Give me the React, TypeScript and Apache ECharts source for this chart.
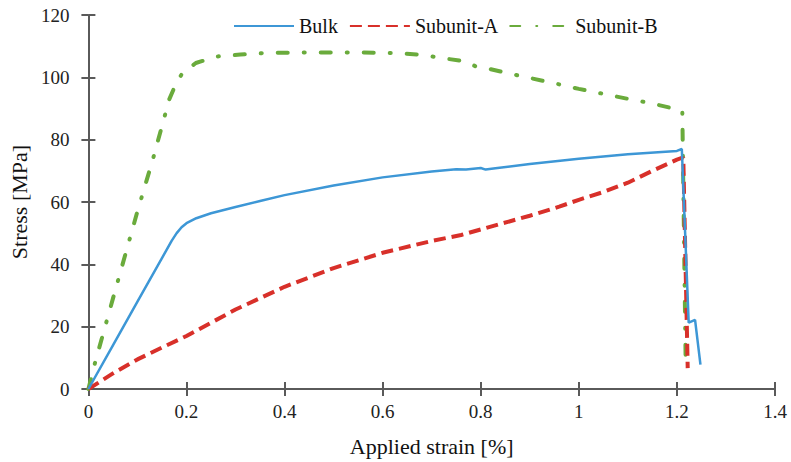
import React, { useEffect, useRef } from "react";
import * as echarts from "echarts";

const bulk: [number, number][] = [
  [0, 0], [0.05, 14], [0.1, 28], [0.15, 42], [0.17, 47.6], [0.18, 50], [0.19, 51.9], [0.2, 53.2],
  [0.22, 54.8], [0.25, 56.4], [0.3, 58.4], [0.35, 60.3], [0.4, 62.2], [0.5, 65.3],
  [0.6, 67.9], [0.7, 69.8], [0.75, 70.5], [0.77, 70.4], [0.8, 70.9], [0.81, 70.4],
  [0.83, 70.8], [0.9, 72.2], [1.0, 73.9], [1.1, 75.3], [1.2, 76.4], [1.21, 77],
  [1.224, 21.3], [1.237, 22.2], [1.248, 7.8],
];

const subunitA: [number, number][] = [
  [0, 0], [0.05, 5], [0.1, 9.5], [0.15, 13.3], [0.2, 17], [0.3, 25.5], [0.4, 32.8],
  [0.5, 38.8], [0.6, 43.7], [0.7, 47.5], [0.76, 49.4], [0.8, 51.2], [0.9, 55.6],
  [0.96, 58.5], [1.0, 60.7], [1.05, 63.2], [1.1, 66.2], [1.15, 70], [1.2, 73.6],
  [1.213, 74.3], [1.222, 6.7],
];

const subunitB: [number, number][] = [
  [0, 0], [0.0135, 8.4], [0.05, 29], [0.1, 57], [0.132, 74], [0.165, 93], [0.18, 98.5],
  [0.192, 101.4], [0.219, 104.6], [0.263, 106.7], [0.31, 107.3], [0.36, 107.8],
  [0.45, 108], [0.55, 108], [0.62, 107.8], [0.674, 107.3], [0.721, 106.2],
  [0.768, 105.1], [0.79, 103.5], [0.81, 103], [0.853, 101.4], [0.9, 99.8],
  [0.95, 98.1], [1.0, 96.3], [1.05, 94.7], [1.1, 93.1], [1.15, 91.6], [1.211, 89.3],
  [1.218, 6.7],
];

const seriesNames = ["Bulk", "Subunit-A", "Subunit-B"];
const xTicks = { min: 0, max: 1.4, interval: 0.2 };
const yTicks = { min: 0, max: 120, interval: 20 };

const FONT = "'Liberation Serif', 'Times New Roman', Times, serif";
const AXIS_COLOR = "#5a5a5a";

export default function App() {
  const ref = useRef<HTMLDivElement>(null);
  useEffect(() => {
    if (!ref.current) return;
    const chart = echarts.init(ref.current, undefined, { renderer: "svg" });
    const baseAxisLine = { show: true, lineStyle: { color: AXIS_COLOR, width: 2 } };
    const tickStyle = { color: AXIS_COLOR, width: 2 };
    chart.setOption({
      animation: false,
      backgroundColor: "#ffffff",
      textStyle: { fontFamily: FONT },
      grid: { left: 84, right: 16, top: 15, bottom: 73 },
      legend: {
        left: 228,
        top: 11,
        itemWidth: 60,
        itemHeight: 14,
        itemGap: 11,
        data: seriesNames,
        itemStyle: { opacity: 0 },
        textStyle: { fontFamily: FONT, fontSize: 20, color: "#111" },
      },
      xAxis: [
        {
          type: "value",
          ...xTicks,
          position: "bottom",
          name: "Applied strain [%]",
          nameLocation: "middle",
          nameGap: 46,
          nameTextStyle: { fontFamily: FONT, fontSize: 22, color: "#111" },
          axisLine: baseAxisLine,
          axisTick: { show: true, length: 7, lineStyle: tickStyle },
          axisLabel: {
            fontFamily: FONT, fontSize: 19, color: "#222", margin: 13,
            formatter: (v: number) => String(Math.round(v * 10) / 10),
          },
          splitLine: { show: false },
        },
        {
          type: "value",
          ...xTicks,
          position: "bottom",
          axisLine: { show: false },
          axisTick: { show: true, inside: true, length: 7, lineStyle: tickStyle },
          axisLabel: { show: false },
          splitLine: { show: false },
        },
      ],
      yAxis: [
        {
          type: "value",
          ...yTicks,
          position: "left",
          name: "Stress [MPa]",
          nameLocation: "middle",
          nameGap: 56,
          nameTextStyle: { fontFamily: FONT, fontSize: 22, color: "#111" },
          axisLine: baseAxisLine,
          axisTick: { show: true, length: 7, lineStyle: tickStyle },
          axisLabel: { fontFamily: FONT, fontSize: 19, color: "#222", margin: 19 },
          splitLine: { show: false },
        },
        {
          type: "value",
          ...yTicks,
          position: "left",
          axisLine: { show: false },
          axisTick: { show: true, inside: true, length: 7, lineStyle: tickStyle },
          axisLabel: { show: false },
          splitLine: { show: false },
        },
      ],
      series: [
        {
          name: seriesNames[0],
          type: "line",
          data: bulk,
          symbol: "none",
          color: "#3d97d6",
          lineStyle: { width: 2.5, color: "#3d97d6" },
          z: 3,
        },
        {
          name: seriesNames[1],
          type: "line",
          data: subunitA,
          symbol: "none",
          color: "#d8302a",
          lineStyle: { width: 4, color: "#d8302a", type: [12, 6] },
          z: 2,
        },
        {
          name: seriesNames[2],
          type: "line",
          data: subunitB,
          symbol: "none",
          color: "#6aab3c",
          lineStyle: { width: 4, color: "#6aab3c", type: [10, 16, 1, 16], cap: "round" },
          z: 1,
        },
      ],
    });
    return () => chart.dispose();
  }, []);
  return (
    <div
      ref={ref}
      style={{ position: "fixed", left: 0, top: 0, width: 791, height: 462, background: "#fff" }}
    />
  );
}
